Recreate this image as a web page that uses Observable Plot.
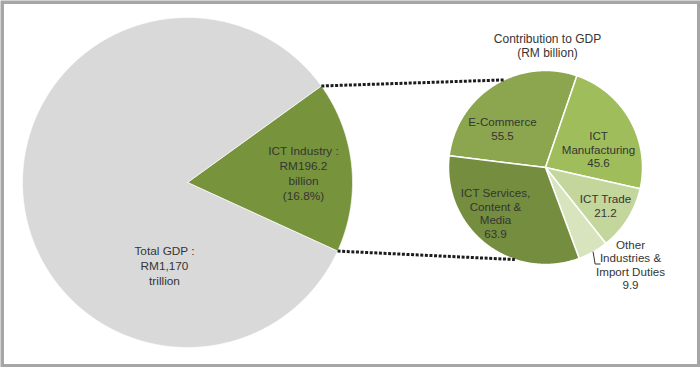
<!DOCTYPE html>
<html>
<head>
<meta charset="utf-8">
<script src="https://cdn.jsdelivr.net/npm/d3@7"></script>
<script src="https://cdn.jsdelivr.net/npm/@observablehq/plot@0.6"></script>
<style>
  html, body { margin: 0; padding: 0; background: #fff; }
  #chart svg { display: block; font-family: "Liberation Sans", Arial, sans-serif; }
</style>
</head>
<body>
<div id="chart"></div>
<script>
// ---------- DATA ----------
const gdpTotal = 1170;              // RM billion (labelled "RM1,170 trillion")
const ictIndustry = 196.2;          // RM billion
const bigCategories = ["ICT Industry", "Rest of GDP"];
const bigValues = [ictIndustry, gdpTotal - ictIndustry];
const bigLabels = ["ICT Industry :\nRM196.2\nbillion\n(16.8%)", "Total GDP :\nRM1,170\ntrillion"];

const subCategories = ["E-Commerce", "ICT Manufacturing", "ICT Trade", "Other Industries & Import Duties", "ICT Services, Content & Media"];
const subValues = [55.5, 45.6, 21.2, 9.9, 63.9];
const subLabelLines = [["E-Commerce"], ["ICT", "Manufacturing"], ["ICT Trade"], ["Other", "Industries &", "Import Duties"], ["ICT Services,", "Content &", "Media"]];
const subTitle = "Contribution to GDP\n(RM billion)";

// ---------- STYLE / LAYOUT ----------
const W = 700, H = 367;
const deg = Math.PI / 180;
const big = {cx: 187, cy: 182, r: 165, start: 54.2 * deg};
const small = {cx: 545, cy: 167, r: 97, start: 277 * deg};
const bigColors = ["#77933c", "#d9d9d9"];
const subColors = ["#8ba64e", "#9fbd5b", "#c3d69b", "#d8e4bd", "#748d3e"];
const bigLabelPos = [[303, 172], [164, 265]];
const subLabelPos = [[502, 128], [598, 149], [605, 205], [630, 264], [495, 212.5]];
const titlePos = [547, 45];
const connectorEnds = [334.5 * deg, 198.4 * deg]; // where dotted lines meet the small pie
const textColor = "#353535";

// ---------- GEOMETRY ----------
function pt(c, r, a) { return [c.cx + r * Math.sin(a), c.cy - r * Math.cos(a)]; }
function slicePoints(c, a0, a1) {
  const n = Math.max(2, Math.ceil((a1 - a0) / (0.5 * deg)));
  const pts = [[c.cx, c.cy]];
  for (let i = 0; i <= n; i++) pts.push(pt(c, c.r, a0 + (a1 - a0) * i / n));
  pts.push([c.cx, c.cy]);
  return pts;
}
const bigArcs = d3.pie().sort(null).startAngle(big.start).endAngle(big.start + 2 * Math.PI)(bigValues);
const subArcs = d3.pie().sort(null).startAngle(small.start).endAngle(small.start + 2 * Math.PI)(subValues);

const ictArc = bigArcs[0];
const connectors = [
  [pt(big, big.r, ictArc.startAngle), pt(small, small.r, connectorEnds[0])],
  [pt(big, big.r, ictArc.endAngle), pt(small, small.r, connectorEnds[1])]
];

// leader line for the "Other" slice
const otherArc = subArcs[3];
const otherMid = (otherArc.startAngle + otherArc.endAngle) / 2;
const leaderStart = pt(small, small.r, otherMid);
const leader = [leaderStart, [leaderStart[0] + 2, leaderStart[1] + 12], [leaderStart[0] + 7, leaderStart[1] + 12]];

const X = d => d[0], Y = d => d[1];
const marks = [];

// big pie
bigArcs.forEach((a, i) => {
  marks.push(Plot.line(slicePoints(big, a.startAngle, a.endAngle), {x: X, y: Y, fill: bigColors[i], stroke: "#ffffff", strokeWidth: 0.8, strokeOpacity: 0.8}));
});
// small pie
subArcs.forEach((a, i) => {
  marks.push(Plot.line(slicePoints(small, a.startAngle, a.endAngle), {x: X, y: Y, fill: subColors[i], stroke: "#ffffff", strokeWidth: 1.5}));
});
// dotted connectors
connectors.forEach(c => {
  marks.push(Plot.line(c, {x: X, y: Y, stroke: "#1c1c1c", strokeWidth: 3, strokeDasharray: "3,1.6", strokeLinecap: "butt"}));
});
// leader
marks.push(Plot.line(leader, {x: X, y: Y, stroke: "#333", strokeWidth: 1}));

// labels
const bigLabelData = bigLabels.map((t, i) => ({text: t, x: bigLabelPos[i][0], y: bigLabelPos[i][1]}));
marks.push(Plot.text(bigLabelData, {x: "x", y: "y", text: "text", fontSize: 11.8, lineHeight: 1.27, fill: textColor}));

const subLabelData = subCategories.map((c, i) => ({
  text: subLabelLines[i].join("\n") + "\n" + subValues[i],
  x: subLabelPos[i][0], y: subLabelPos[i][1]
}));
marks.push(Plot.text(subLabelData, {x: "x", y: "y", text: "text", fontSize: 11.6, lineHeight: 1.17, fill: textColor}));
marks.push(Plot.text([{text: subTitle, x: titlePos[0], y: titlePos[1]}], {x: "x", y: "y", text: "text", fontSize: 12, lineHeight: 1.17, fill: textColor}));

// outer frame
marks.push(Plot.frame({stroke: "#a6a6a6", strokeWidth: 3.5, inset: 1.75}));

const chart = Plot.plot({
  width: W, height: H,
  margin: 0,
  x: {domain: [0, W], range: [0, W], axis: null},
  y: {domain: [0, H], range: [0, H], axis: null},
  style: {background: "#fff", fontFamily: "Liberation Sans, Arial, sans-serif"},
  marks
});
document.getElementById("chart").appendChild(chart);
</script>
</body>
</html>
